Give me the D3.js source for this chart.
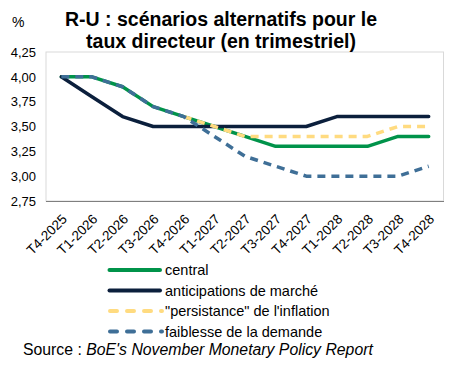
<!DOCTYPE html>
<html>
<head>
<meta charset="utf-8">
<script src="https://cdn.jsdelivr.net/npm/d3@7"></script>
<style>
  body { margin: 0; background: #fff; }
  svg { font-family: "Liberation Sans", Arial, sans-serif; }
</style>
</head>
<body>
<div id="chart"></div>
<script>
// quarters on the x axis
const quarters = ["T4-2025", "T1-2026", "T2-2026", "T3-2026", "T4-2026", "T1-2027", "T2-2027",
  "T3-2027", "T4-2027", "T1-2028", "T2-2028", "T3-2028", "T4-2028"];

// scenario values (%), null = not drawn
const central = [4.00, 4.00, 3.90, 3.70, 3.60, 3.50, 3.40, 3.30, 3.30, 3.30, 3.30, 3.40, 3.40];
const marche = [4.00, 3.80, 3.60, 3.50, 3.50, 3.50, 3.50, 3.50, 3.50, 3.60, 3.60, 3.60, 3.60];
const persistance = [null, null, null, null, 3.60, 3.50, 3.40, 3.40, 3.40, 3.40, 3.40, 3.50, 3.50];
const demande = [4.00, 4.00, 3.90, 3.70, 3.60, 3.40, 3.20, 3.10, 3.00, 3.00, 3.00, 3.00, 3.10];

const yTicks = [2.75, 3.00, 3.25, 3.50, 3.75, 4.00, 4.25];

const series = [
  { name: "central", values: central, color: "#00934a", dash: null },
  { name: "anticipations de marché", values: marche, color: "#0b1f3c", dash: null },
  { name: "\"persistance\" de l'inflation", values: persistance, color: "#ffdb80", dash: "8,6" },
  { name: "faiblesse de la demande", values: demande, color: "#3f6f97", dash: "8,6" }
];

const width = 450, height = 366;
const margin = { top: 52, right: 6, bottom: 165, left: 46 };

const svg = d3.select("#chart").append("svg")
  .attr("width", width)
  .attr("height", height);

const x = d3.scalePoint()
  .domain(quarters)
  .range([margin.left, width - margin.right])
  .padding(0.5);

const y = d3.scaleLinear()
  .domain([2.75, 4.25])
  .range([height - margin.bottom, margin.top]);

const fmt = d => d3.format(".2f")(d).replace(".", ",");

// plot frame (light grey)
svg.append("rect")
  .attr("x", margin.left)
  .attr("y", margin.top)
  .attr("width", width - margin.right - margin.left - 0.5)
  .attr("height", height - margin.bottom - margin.top)
  .attr("fill", "none")
  .attr("stroke", "#d9d9d9")
  .attr("stroke-width", 1);

// x axis
const xAxis = svg.append("g")
  .attr("transform", `translate(0,${height - margin.bottom})`)
  .call(d3.axisBottom(x).tickSize(0).tickPadding(0));
xAxis.select(".domain")
  .attr("d", `M${margin.left},0.5H${width - margin.right}`)
  .attr("stroke", "#7f7f7f");
xAxis.selectAll(".tick text")
  .attr("font-size", 13.5)
  .attr("fill", "#000")
  .attr("text-anchor", "end")
  .attr("dy", 0)
  .attr("transform", "translate(6,19) rotate(-45)");

// y axis
const yAxis = svg.append("g")
  .attr("transform", `translate(${margin.left},0)`)
  .call(d3.axisLeft(y).tickValues(yTicks).tickFormat(fmt).tickSize(0).tickPadding(10));
yAxis.select(".domain").remove();
yAxis.selectAll(".tick text")
  .attr("font-size", 13)
  .attr("fill", "#000");

// lines
const line = d3.line()
  .defined(d => d != null)
  .x((d, i) => x(quarters[i]))
  .y(d => y(d));

series.forEach(s => {
  svg.append("path")
    .attr("d", line(s.values))
    .attr("fill", "none")
    .attr("stroke", s.color)
    .attr("stroke-width", 3.5)
    .attr("stroke-linejoin", "round")
    .attr("stroke-linecap", s.dash ? "butt" : "round")
    .attr("stroke-dasharray", s.dash);
});

// title
svg.append("text")
  .attr("x", 221)
  .attr("y", 26)
  .attr("text-anchor", "middle")
  .attr("font-size", 19.5)
  .attr("font-weight", "bold")
  .text("R-U : scénarios alternatifs pour le");
svg.append("text")
  .attr("x", 221)
  .attr("y", 48)
  .attr("text-anchor", "middle")
  .attr("font-size", 19.5)
  .attr("font-weight", "bold")
  .text("taux directeur (en trimestriel)");
svg.append("text")
  .attr("x", 12)
  .attr("y", 27)
  .attr("font-size", 14)
  .text("%");

// legend
const legend = svg.append("g").attr("transform", "translate(108,270)");
series.forEach((s, i) => {
  const g = legend.append("g").attr("transform", `translate(0,${i * 20.5})`);
  g.append("line")
    .attr("x1", s.dash ? 0 : 1.5)
    .attr("x2", 52)
    .attr("stroke", s.color)
    .attr("stroke-width", 4)
    .attr("stroke-linecap", "round")
    .attr("stroke-dasharray", s.dash ? "7,10" : null)
    .attr("transform", s.dash ? "translate(2,0)" : null);
  g.append("text")
    .attr("x", 57)
    .attr("y", 5)
    .attr("font-size", 14.5)
    .text(s.name);
});

// source
const src = svg.append("text")
  .attr("x", 23)
  .attr("y", 355)
  .attr("font-size", 15.8);
src.append("tspan").text("Source : ");
src.append("tspan").attr("font-style", "italic").text("BoE's November Monetary Policy Report");
</script>
</body>
</html>
